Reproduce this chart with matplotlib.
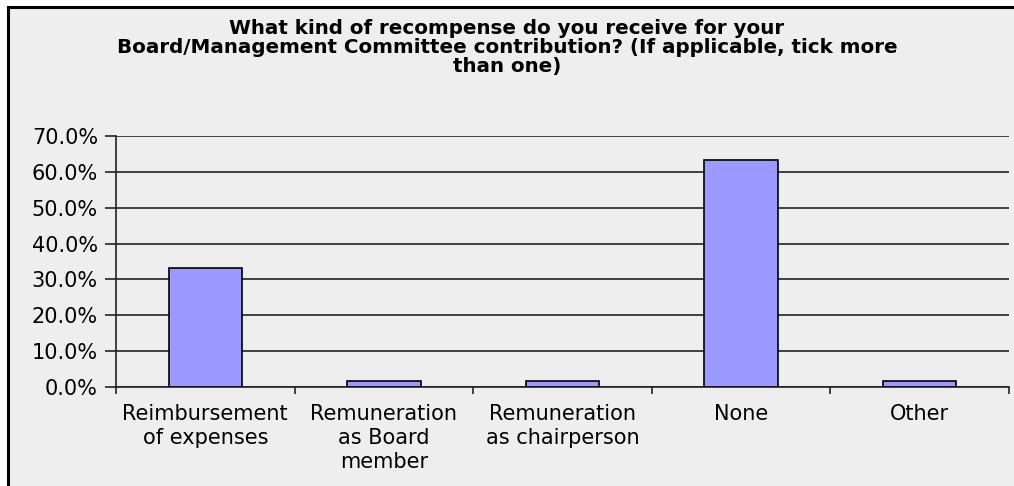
import matplotlib
matplotlib.use("Agg")
import matplotlib.pyplot as plt
from matplotlib.patches import Rectangle
from matplotlib.ticker import FuncFormatter, MultipleLocator
import numpy as np

categories = [
    "Reimbursement\nof expenses",
    "Remuneration\nas Board\nmember",
    "Remuneration\nas chairperson",
    "None",
    "Other",
]
values = [33.3, 1.7, 1.7, 63.3, 1.7]
title = ("What kind of recompense do you receive for your\n"
         "Board/Management Committee contribution? (If applicable, tick more\n"
         "than one)")

W, H = 1014, 486
fig = plt.figure(figsize=(W / 100, H / 100), dpi=100)
fig.patch.set_facecolor("white")

# chart area frame (runs past the right and bottom edges)
frame = Rectangle((8 / W, -0.2), 1.2, 1 - 7 / H + 0.2, transform=fig.transFigure,
                  facecolor="#EEEEEE", edgecolor="black", linewidth=2.2, zorder=-5)
fig.patches.append(frame)

ax = fig.add_axes([116 / W, 1 - 387 / H, (1009 - 116) / W, (387 - 136) / H])
ax.set_facecolor("none")
ax.set_zorder(2)

x = np.arange(len(categories))
ax.bar(x, values, width=0.41, color="#9999FF", edgecolor="black", linewidth=1.2, zorder=3)

ax.set_xlim(-0.5, len(categories) - 0.5)
ax.set_ylim(0, 70)
ax.yaxis.set_major_locator(MultipleLocator(10))
ax.yaxis.set_major_formatter(FuncFormatter(lambda v, p: f"{v:.1f}%"))
ax.yaxis.grid(True, color="#222222", linewidth=1.2, zorder=1)
ax.set_axisbelow(True)

for s in ["top", "right"]:
    ax.spines[s].set_visible(False)
for s in ["left", "bottom"]:
    ax.spines[s].set_color("#222222")
    ax.spines[s].set_linewidth(1.2)

ax.tick_params(axis="y", length=8, width=1.2, color="#222222", labelsize=15, pad=5)
ax.set_xticks(np.arange(len(categories) + 1) - 0.5)
ax.set_xticklabels([])
ax.set_xticks(x, minor=True)
ax.set_xticklabels(categories, minor=True, fontsize=15, linespacing=1.25)
ax.tick_params(axis="x", which="major", length=5, width=1.2, color="#222222", direction="out")
ax.tick_params(axis="x", which="minor", length=0, pad=12)

fig.text(507 / W, 1 - 47 / H, title, ha="center", va="center", fontsize=14.3,
         fontweight="bold", linespacing=1.0)

fig.savefig("out.png", dpi=100, facecolor=fig.get_facecolor())
